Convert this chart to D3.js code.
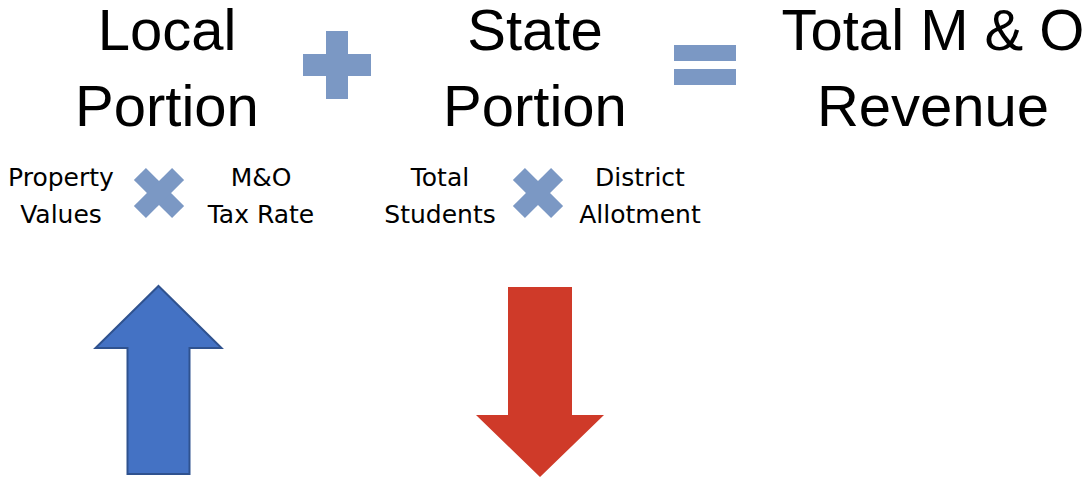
<!DOCTYPE html>
<html>
<head>
<meta charset="utf-8">
<script src="https://cdn.jsdelivr.net/npm/d3@7"></script>
<style>
  body { margin: 0; background: #fff; }
  svg { display: block; }
</style>
</head>
<body>
<div id="chart"></div>
<script>
// Terms of the equation (each one is two lines)
const terms = [["Local", "Portion"], ["State", "Portion"], ["Total M & O", "Revenue"]];
// Operators placed between the terms
const operators = ["plus", "equals"];
// Factors that make up each portion
const factors = [
  {term: 0, left: ["Property", "Values"], right: ["M&O", "Tax Rate"]},
  {term: 1, left: ["Total", "Students"], right: ["District", "Allotment"]}
];
// Trend of each portion
const trends = [{term: 0, direction: "up"}, {term: 1, direction: "down"}];

const width = 1089, height = 478;

// Layout: horizontal centres of the pieces
const termX = d3.scaleOrdinal().domain([0, 1, 2]).range([167, 535, 933]);
const opX = d3.scaleOrdinal().domain(operators).range([337, 705]);
const timesX = d3.scaleOrdinal().domain([0, 1]).range([159, 538]);
const factorOffset = {left: -98, right: 102};
const arrowX = d3.scaleOrdinal().domain([0, 1]).range([158.5, 540]);

const opColor = "#7b98c4";
const arrowFill = d3.scaleOrdinal().domain(["up", "down"]).range(["#4472c4", "#cf3a29"]);
const arrowStroke = d3.scaleOrdinal().domain(["up", "down"]).range(["#2f528f", "none"]);

const svg = d3.select("#chart")
  .append("svg")
    .attr("width", width)
    .attr("height", height);

// Big term titles
const titles = svg.selectAll("text.term")
  .data(terms)
  .join("text")
    .attr("class", "term")
    .attr("text-anchor", "middle")
    .style("font-family", "'Liberation Sans', Arial, sans-serif")
    .style("font-size", "58px")
    .attr("fill", "#000");

titles.selectAll("tspan")
  .data((d, i) => d.map(line => ({line, i})))
  .join("tspan")
    .attr("x", d => termX(d.i))
    .attr("y", (d, j) => 50 + j * 76)
    .text(d => d.line);

// Plus sign
const plus = svg.append("g").attr("transform", `translate(${opX("plus")},65)`);
plus.append("rect").attr("x", -34).attr("y", -11).attr("width", 68).attr("height", 22).attr("fill", opColor);
plus.append("rect").attr("x", -11).attr("y", -34).attr("width", 22).attr("height", 68).attr("fill", opColor);

// Equals sign
const eq = svg.append("g").attr("transform", `translate(${opX("equals")},65)`);
eq.append("rect").attr("x", -31).attr("y", -20).attr("width", 62).attr("height", 16).attr("fill", opColor);
eq.append("rect").attr("x", -31).attr("y", 4).attr("width", 62).attr("height", 16).attr("fill", opColor);

// Factor labels and times marks
factors.forEach(f => {
  const cx = timesX(f.term);
  [["left", f.left], ["right", f.right]].forEach(([side, lines]) => {
    svg.append("text")
      .attr("text-anchor", "middle")
      .style("font-family", "'DejaVu Sans', Verdana, sans-serif")
      .style("font-size", "25px")
      .attr("fill", "#000")
      .selectAll("tspan")
      .data(lines)
      .join("tspan")
        .attr("x", cx + factorOffset[side])
        .attr("y", (d, j) => 186 + j * 37)
        .text(d => d);
  });

  const times = svg.append("g")
    .attr("transform", `translate(${cx},193) rotate(45)`);
  times.append("rect").attr("x", -27).attr("y", -8.5).attr("width", 54).attr("height", 17).attr("fill", opColor);
  times.append("rect").attr("x", -8.5).attr("y", -27).attr("width", 17).attr("height", 54).attr("fill", opColor);
});

// Trend arrows
function arrowPath(dir) {
  // shaft half-width 31, head half-width 63
  if (dir === "up") {
    return `M0,286 L63,348 L31,348 L31,474 L-31,474 L-31,348 L-63,348 Z`;
  }
  return `M-32,287 L32,287 L32,415 L64,415 L0,477 L-64,415 L-32,415 Z`;
}

svg.selectAll("path.arrow")
  .data(trends)
  .join("path")
    .attr("class", "arrow")
    .attr("transform", d => `translate(${arrowX(d.term)},0)`)
    .attr("d", d => arrowPath(d.direction))
    .attr("fill", d => arrowFill(d.direction))
    .attr("stroke", d => arrowStroke(d.direction))
    .attr("stroke-width", 2)
    .attr("stroke-linejoin", "miter");
</script>
</body>
</html>
